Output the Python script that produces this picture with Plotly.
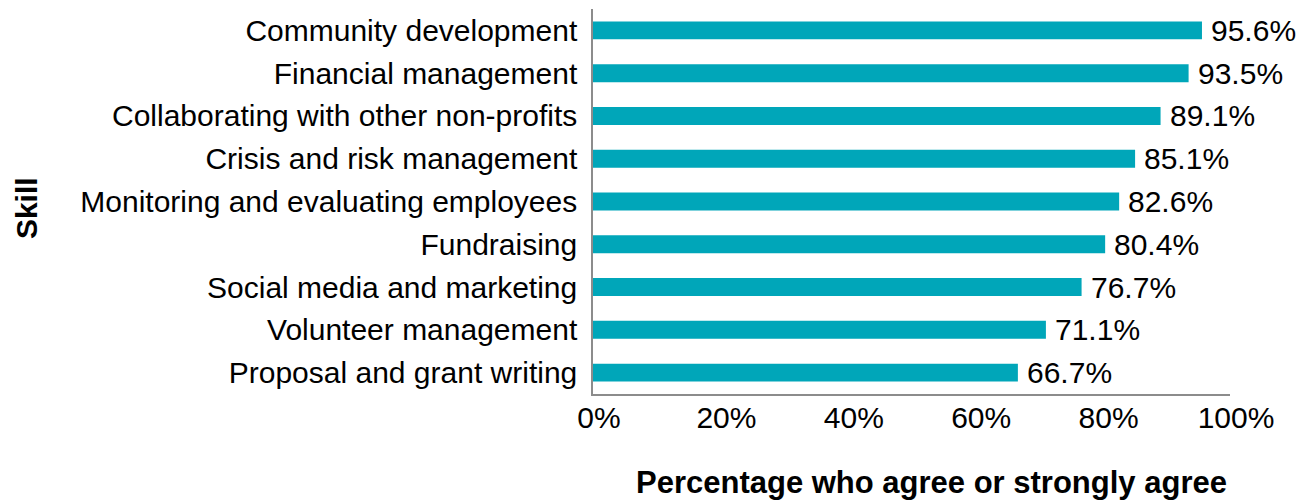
import plotly.graph_objects as go

skills = ['Community development', 'Financial management',
          'Collaborating with other non-profits', 'Crisis and risk management',
          'Monitoring and evaluating employees', 'Fundraising',
          'Social media and marketing', 'Volunteer management',
          'Proposal and grant writing']
pct = [95.6, 93.5, 89.1, 85.1, 82.6, 80.4, 76.7, 71.1, 66.7]
x_ticks = [0, 20, 40, 60, 80, 100]
x_tick_labels = ['0%', '20%', '40%', '60%', '80%', '100%']

FONT = 'Liberation Sans, Arial, sans-serif'
BAR_COLOR = '#00A6B9'

fig = go.Figure()
fig.add_trace(
    go.Bar(
        x=pct, y=skills, orientation='h',
        marker=dict(color=BAR_COLOR, line=dict(width=0)),
        width=0.42,
        hoverinfo='skip',
    )
)

# value labels at the end of each bar
for s, v in zip(skills, pct):
    fig.add_annotation(
        x=v, y=s, xref='x', yref='y', text=f'{v:.1f}%',
        showarrow=False, xanchor='left', yanchor='middle', xshift=7,
        font=dict(family=FONT, size=30, color='#000000'),
    )

# axis titles
fig.add_annotation(
    x=0.532, y=0, xref='paper', yref='paper', yshift=-88,
    text='<b>Percentage who agree or strongly agree</b>', showarrow=False,
    xanchor='center', yanchor='middle',
    font=dict(family=FONT, size=31, color='#000000'),
)
fig.add_annotation(
    x=-0.89, y=0.483, xref='paper', yref='paper',
    text='<b>Skill</b>', showarrow=False, textangle=-90,
    xanchor='center', yanchor='middle',
    font=dict(family=FONT, size=30, color='#000000'),
)

# page body has an 8px margin, so the figure is shrunk by that much
fig.update_layout(
    width=1301, height=492,
    margin=dict(l=585, r=79, t=1, b=106),
    plot_bgcolor='white', paper_bgcolor='white',
    showlegend=False,
    font=dict(family=FONT, size=30, color='#000000'),
    xaxis=dict(
        range=[0, 100], tickvals=x_ticks, ticktext=x_tick_labels,
        showgrid=False, zeroline=False,
        showline=True, linecolor='#8c8c8c', linewidth=1.5,
        ticks='', ticklabelstandoff=-4, ticklabelshift=6,
        tickfont=dict(family=FONT, size=30, color='#000000'),
    ),
    yaxis=dict(
        categoryorder='array', categoryarray=skills[::-1],
        range=[-0.5, len(skills) - 0.5],
        showgrid=False, zeroline=False,
        showline=True, linecolor='#8c8c8c', linewidth=1.5,
        ticks='', ticklabelstandoff=8,
        tickfont=dict(family=FONT, size=30, color='#000000'),
    ),
)

fig.write_html('out.html')
